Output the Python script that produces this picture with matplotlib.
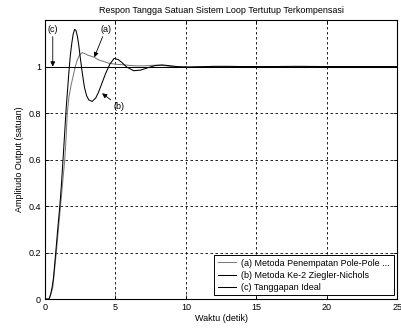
import matplotlib.pyplot as plt
import numpy as np

plt.rcParams['font.family'] = ['Liberation Sans', 'DejaVu Sans']
plt.rcParams['font.size'] = 6.5

# (a) pole placement response
t_a = [0.0, 0.3, 0.55, 0.8, 0.95, 1.1, 1.25, 1.4, 1.5, 1.58, 1.7, 1.85, 2.0,
       2.15, 2.3, 2.45, 2.65, 2.85, 3.0, 3.25, 3.5, 3.75, 4.0, 4.5, 5.0,
       5.5, 6.0, 6.5, 7.0, 7.5, 8.0, 8.5, 9.0, 10.0, 12.0, 25.0]
y_a = [0.0, 0.0, 0.05, 0.2, 0.3, 0.4, 0.5, 0.6, 0.7, 0.8, 0.87, 0.92, 0.96,
       1.0, 1.03, 1.05, 1.06, 1.055, 1.05, 1.045, 1.04, 1.03, 1.025, 1.015,
       1.01, 1.008, 1.005, 1.003, 1.003, 1.005, 1.006, 1.004, 1.0, 1.0,
       1.0, 1.0]

# (b) Ziegler-Nichols response
t_b = [0.0, 0.28, 0.4, 0.5, 0.6, 0.76, 0.9, 1.05, 1.15, 1.3, 1.4, 1.5, 1.6,
       1.7, 1.8, 1.9, 2.0, 2.1, 2.2, 2.3, 2.4, 2.5, 2.65, 2.8, 2.95, 3.1,
       3.35, 3.6, 3.8, 4.05, 4.3, 4.6, 4.9, 5.2, 5.5, 5.8, 6.3, 6.8, 7.3,
       7.8, 8.3, 8.8, 9.5, 10.2, 11.0, 12.0, 13.0, 14.0, 16.0, 18.0, 20.0,
       25.0]
y_b = [0.0, 0.0, 0.02, 0.05, 0.09, 0.2, 0.3, 0.4, 0.48, 0.62, 0.72, 0.82,
       0.9, 0.98, 1.05, 1.1, 1.14, 1.16, 1.155, 1.13, 1.09, 1.04, 0.97, 0.91,
       0.875, 0.857, 0.85, 0.865, 0.89, 0.93, 0.97, 1.01, 1.035, 1.03, 1.015,
       0.998, 0.982, 0.985, 0.995, 1.004, 1.007, 1.004, 0.999, 0.997, 0.999,
       1.001, 1.001, 1.0, 1.0, 1.001, 1.0, 1.0]

# (c) ideal step
t_c = [0.0, 0.0, 25.0]
y_c = [0.0, 1.0, 1.0]

labels = ['(a) Metoda Penempatan Pole-Pole ...',
          '(b) Metoda Ke-2 Ziegler-Nichols',
          '(c) Tanggapan Ideal']

fig = plt.figure(figsize=(4.02, 3.29), dpi=100)
ax = fig.add_axes([0.112, 0.091, 0.876, 0.848])

ax.plot(t_a, y_a, color='#7a7a7a', lw=0.75, label=labels[0])
ax.plot(t_b, y_b, color='black', lw=0.75, label=labels[1])
ax.plot(t_c, y_c, color='black', lw=0.75, label=labels[2])

ax.set_xlim(0, 25)
ax.set_ylim(0, 1.2)
ax.set_xticks([0, 5, 10, 15, 20, 25])
ax.set_yticks([0, 0.2, 0.4, 0.6, 0.8, 1])
ax.set_yticklabels(['0', '0.2', '0.4', '0.6', '0.8', '1'])
ax.tick_params(direction='in', top=True, right=True, length=3, width=0.6,
               pad=3)
ax.grid(True, color='black', ls=(0, (3, 3)), lw=0.6)
for s in ax.spines.values():
    s.set_linewidth(0.8)

ax.set_title('Respon Tangga Satuan Sistem Loop Tertutup Terkompensasi',
             fontsize=6.5, pad=5)
ax.set_xlabel('Waktu (detik)', labelpad=1)
ax.set_ylabel('Amplitudo Output (satuan)', labelpad=3)

arrow = dict(arrowstyle='-|>', color='black', lw=0.6, mutation_scale=7,
             shrinkA=0, shrinkB=0)
ax.annotate('(c)', xy=(0.55, 1.0), xytext=(0.55, 1.16), ha='center',
            va='center', arrowprops=arrow)
ax.annotate('(a)', xy=(3.5, 1.04), xytext=(4.3, 1.16), ha='center',
            va='center', arrowprops=arrow)
ax.annotate('(b)', xy=(4.05, 0.885), xytext=(5.25, 0.83), ha='center',
            va='center', arrowprops=arrow)

leg = ax.legend(loc='lower right', fancybox=False, framealpha=1,
                edgecolor='black', borderaxespad=0.4, handlelength=2.0,
                handletextpad=0.6, labelspacing=0.35, borderpad=0.4)
leg.get_frame().set_linewidth(0.7)

fig.savefig('out.png', dpi=100)
